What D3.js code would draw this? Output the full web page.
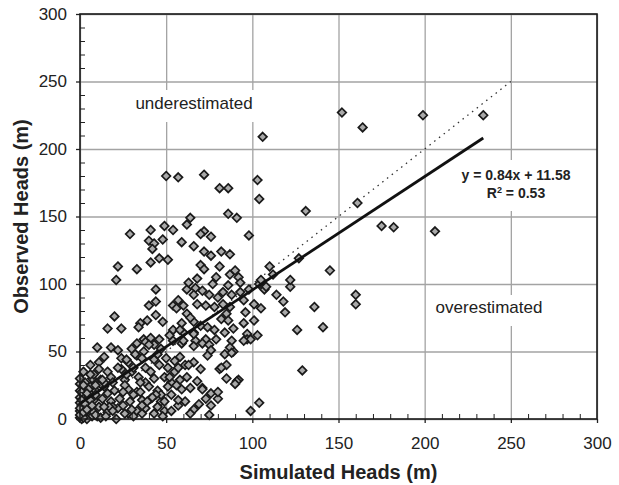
<!DOCTYPE html>
<html>
<head>
<meta charset="utf-8">
<script src="https://cdn.jsdelivr.net/npm/d3@7"></script>
<style>
  body { margin: 0; background: #fff; }
  text { font-family: "Liberation Sans", Arial, Helvetica, sans-serif; fill: #222; }
</style>
</head>
<body>
<div id="chart"></div>
<script>
// simulated vs observed heads (m)
const simulated = [
    50, 57, 72, 81, 86, 103, 106, 104, 152, 164, 199, 234, 131, 161, 175, 182, 206,
    86, 91, 64, 62, 72, 76, 70, 98, 59, 66, 72, 76, 82, 87,
    29, 41, 49, 54, 40, 43, 48, 42, 41, 46, 51,
    22, 21, 33,
    44, 40, 44, 44, 39, 35, 34, 20, 16, 24, 48, 54, 56, 54, 37, 41, 46,
    70, 72, 81, 68, 77, 87, 92, 93, 86, 62, 67, 71, 66, 83, 88, 93, 60, 62, 73, 83, 78, 87, 85, 96, 101, 105, 112, 114, 110,
    59, 66, 70, 74, 82, 86, 95, 101, 60, 66, 78, 84, 89, 97, 103, 67, 73, 79, 88, 97,
    104, 107, 119, 118, 122, 122, 127, 145, 126, 141, 136, 160, 160, 129, 104, 99, 92, 76, 76, 71, 81, 85, 89, 99, 95,
    59, 66, 71, 75, 76, 74, 87, 84, 88, 58, 66, 61, 70, 82, 58, 59, 64, 71, 91, 61, 66,
    10, 18, 22, 33, 38, 43, 14, 24, 33, 37, 45, 50, 55, 11, 6, 2, 11, 16, 24, 30, 38, 41, 46, 51, 55,
    7, 12, 18, 26, 34, 38, 43, 49, 53, 3, 9, 14, 20, 28, 33, 40, 45, 51,
    2, 8, 13, 18, 23, 29, 36, 41, 47, 5, 11, 16, 22, 28, 33, 38, 43, 49, 21, 26, 36, 49,
    54, 60, 66, 32, 28, 30, 26, 31, 19, 27, 35, 47, 52, 57, 63, 44, 12, 8,
    0, 0, 0, 0, 0, 0, 1, 2, 3, 1, 4, 2, 5, 3, 6, 1, 7, 4, 2, 8, 5, 3, 6, 9, 10, 12, 0, 0, 1, 2,
    1, 3, 4, 6, 0, 2, 5, 7, 9, 15, 17, 14, 25, 31, 36, 42, 48, 53, 57, 64, 69, 75, 80, 90,
    57, 63, 79, 90, 95, 98, 105, 108, 80, 75, 68, 64, 58, 52, 47, 43, 40, 36, 31, 27, 22,
    19, 16, 13, 9, 6, 4, 14, 19, 25, 30, 35, 39, 45, 53, 56, 62, 68, 73, 80, 85, 57
];
const observed = [
    180, 179, 181, 171, 171, 177, 209, 163, 227, 216, 225, 225, 154, 160, 143, 142, 139,
    152, 149, 149, 144, 139, 135, 137, 136, 131, 128, 124, 121, 124, 122,
    137, 140, 143, 140, 132, 130, 133, 126, 116, 119, 118,
    113, 103, 111,
    96, 84, 87, 77, 73, 71, 68, 76, 67, 67, 72, 84, 82, 66, 59, 60, 59,
    114, 111, 113, 104, 100, 107, 105, 101, 99, 96, 97, 95, 92, 94, 92, 94, 84, 78, 84, 85, 83, 83, 78, 79, 85, 82, 107, 92, 113,
    71, 72, 69, 68, 74, 73, 71, 73, 64, 64, 66, 64, 67, 63, 62, 58, 59, 59, 58, 59,
    100, 96, 79, 87, 98, 103, 119, 110, 66, 68, 83, 92, 85, 36, 12, 6, 29, 10, 19, 23, 37, 40, 50, 59, 58,
    56, 54, 56, 55, 51, 47, 53, 48, 49, 46, 42, 40, 37, 38, 29, 22, 23, 22, 28, 13, 7,
    53, 53, 51, 56, 57, 55, 46, 45, 47, 50, 48, 45, 43, 42, 40, 35, 37, 35, 37, 35, 38, 35, 40, 38, 35,
    30, 29, 31, 29, 31, 27, 30, 31, 27, 22, 21, 24, 21, 22, 20, 24, 21, 24,
    15, 14, 15, 13, 15, 13, 14, 15, 13, 6, 9, 5, 8, 4, 6, 8, 4, 6, 0, 4, 4, 13,
    58, 58, 63, 48, 42, 52, 25, 18, 9, 33, 27, 18, 31, 10, 40, 18, 26, 33,
    26, 21, 16, 12, 6, 1, 3, 8, 2, 10, 12, 18, 3, 5, 9, 0, 2, 0, 1, 5, 17, 27, 24, 18, 2, 1, 8, 3, 14, 5,
    20, 11, 7, 14, 30, 25, 22, 10, 3, 2, 9, 27, 20, 2, 10, 16, 2, 6, 14, 4, 11, 3, 15, 26,
    88, 101, 105, 110, 88, 96, 103, 98, 90, 92, 85, 75, 66, 62, 52, 44, 55, 45, 38, 44, 38,
    27, 19, 29, 25, 33, 19, 9, 6, 10, 7, 20, 13, 9, 18, 25, 31, 28, 15, 20, 30, 38
];

const xTicks = [0, 50, 100, 150, 200, 250, 300];
const yTicks = [0, 50, 100, 150, 200, 250, 300];
const minorTicks = d3.range(0, 301, 10).filter(v => v % 50 !== 0);

// regression line from the picture
const slope = 0.84, intercept = 11.58, fitEnd = 234;

const W = 619, H = 485;
const margin = {top: 14, right: 22, bottom: 66, left: 80},
    width = W - margin.left - margin.right,
    height = H - margin.top - margin.bottom;

const svg = d3.select("#chart").append("svg")
    .attr("width", W)
    .attr("height", H);

const g = svg.append("g")
    .attr("transform", `translate(${margin.left},${margin.top})`);

const x = d3.scaleLinear().domain([0, 300]).range([0, width]);
const y = d3.scaleLinear().domain([0, 300]).range([height, 0]);

// grid
g.append("g")
    .call(d3.axisLeft(y).tickValues(yTicks).tickSize(-width).tickFormat(""))
    .call(s => s.select(".domain").remove())
    .selectAll("line").attr("stroke", "#a3a3a3").attr("stroke-width", 1.3);
g.append("g")
    .attr("transform", `translate(0,${height})`)
    .call(d3.axisBottom(x).tickValues(xTicks).tickSize(-height).tickFormat(""))
    .call(s => s.select(".domain").remove())
    .selectAll("line").attr("stroke", "#a3a3a3").attr("stroke-width", 1.3);

// white label boxes and labels
function label(txt, cx, by, box, opts) {
    g.append("rect")
        .attr("x", box[0] - margin.left).attr("y", box[1] - margin.top)
        .attr("width", box[2]).attr("height", box[3])
        .attr("fill", "#fff");
    const t = g.append("text")
        .attr("x", cx - margin.left).attr("y", by - margin.top)
        .attr("text-anchor", "middle")
        .style("font-size", opts.size + "px")
        .style("font-weight", opts.bold ? "bold" : "normal");
    return t.text(txt);
}
label("underestimated", 194, 109, [128, 90, 130, 32], {size: 17});
label("overestimated", 489, 313, [428, 295, 122, 31], {size: 17});
label("y = 0.84x + 11.58", 516, 180, [456, 160, 122, 51], {size: 14, bold: true});
const r2 = g.append("text")
    .attr("x", 516 - margin.left).attr("y", 198 - margin.top)
    .attr("text-anchor", "middle")
    .style("font-size", "14px").style("font-weight", "bold");
r2.append("tspan").text("R");
r2.append("tspan").text("2").attr("dy", -5).style("font-size", "9px");
r2.append("tspan").text(" = 0.53").attr("dy", 5);

// 1:1 line
g.append("line")
    .attr("x1", x(0)).attr("y1", y(0))
    .attr("x2", x(250)).attr("y2", y(250))
    .attr("stroke", "#333").attr("stroke-width", 1.3)
    .attr("stroke-dasharray", "1.5,4.5");

// points
const pts = simulated.map((v, i) => [v, observed[i]]);
const r = 4.3;
g.append("g").selectAll("path")
    .data(pts)
    .enter()
    .append("path")
    .attr("transform", d => `translate(${x(d[0])},${y(d[1])})`)
    .attr("d", `M0,${-r}L${r},0L0,${r}L${-r},0Z`)
    .attr("fill", "#a9a9a9")
    .attr("stroke", "#1a1a1a")
    .attr("stroke-width", 1.7);

// trendline
g.append("line")
    .attr("x1", x(0)).attr("y1", y(intercept))
    .attr("x2", x(fitEnd)).attr("y2", y(slope * fitEnd + intercept))
    .attr("stroke", "#111").attr("stroke-width", 2.8);

// minor ticks (inside)
g.append("g")
    .call(d3.axisLeft(y).tickValues(minorTicks).tickSize(-5).tickFormat(""))
    .call(s => s.select(".domain").remove())
    .selectAll("line").attr("stroke", "#222").attr("stroke-width", 1);
g.append("g")
    .attr("transform", `translate(0,${height})`)
    .call(d3.axisBottom(x).tickValues(minorTicks).tickSize(-5).tickFormat(""))
    .call(s => s.select(".domain").remove())
    .selectAll("line").attr("stroke", "#222").attr("stroke-width", 1);

// major axes
const yAxis = g.append("g")
    .call(d3.axisLeft(y).tickValues(yTicks).tickSize(4).tickPadding(9));
const xAxis = g.append("g")
    .attr("transform", `translate(0,${height})`)
    .call(d3.axisBottom(x).tickValues(xTicks).tickSize(4).tickPadding(14));
[xAxis, yAxis].forEach(a => {
    a.select(".domain").remove();
    a.selectAll("line").attr("stroke", "#222").attr("stroke-width", 1.3);
    a.selectAll("text").style("font-size", "17px").attr("fill", "#222")
        .style("font-family", "'Liberation Sans', Arial, sans-serif");
});

// frame
g.append("rect")
    .attr("width", width).attr("height", height)
    .attr("fill", "none").attr("stroke", "#1a1a1a").attr("stroke-width", 1.6);

// axis titles
svg.append("text")
    .attr("x", margin.left + width / 2).attr("y", 479)
    .attr("text-anchor", "middle")
    .style("font-size", "20px").style("font-weight", "bold")
    .text("Simulated Heads (m)");
svg.append("text")
    .attr("transform", `translate(28,${margin.top + height / 2}) rotate(-90)`)
    .attr("text-anchor", "middle")
    .style("font-size", "20px").style("font-weight", "bold")
    .text("Observed Heads (m)");
</script>
</body>
</html>
